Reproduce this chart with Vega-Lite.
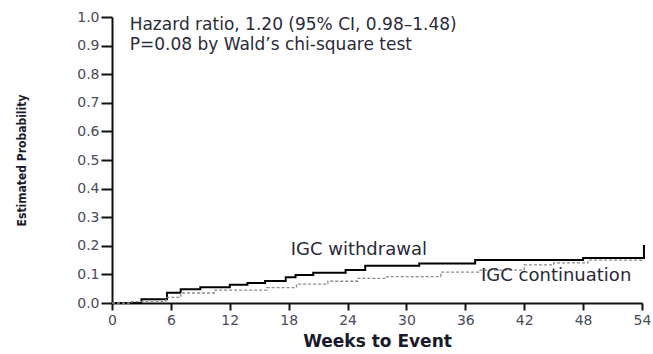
{
  "$schema": "https://vega.github.io/schema/vega-lite/v6.json",
  "width": 530,
  "height": 286,
  "autosize": {"type": "none"},
  "padding": {"left": 112, "top": 17, "right": 11, "bottom": 51},
  "background": "white",
  "config": {
    "view": {"stroke": null},
    "font": "DejaVu Sans",
    "axis": {
      "domainColor": "#111",
      "domainWidth": 2,
      "tickColor": "#111",
      "tickWidth": 2,
      "tickSize": 7,
      "grid": false,
      "labelColor": "#4a4a5a",
      "labelFont": "DejaVu Sans",
      "labelFontSize": 14,
      "labelOverlap": false,
      "labelFlush": false,
      "titleColor": "#1a1a2a"
    }
  },
  "datasets": {
    "km": [
      {"week": 0, "prob": 0, "group": "IGC withdrawal"},
      {"week": 3, "prob": 0.013, "group": "IGC withdrawal"},
      {"week": 5.6, "prob": 0.036, "group": "IGC withdrawal"},
      {"week": 7, "prob": 0.048, "group": "IGC withdrawal"},
      {"week": 9, "prob": 0.055, "group": "IGC withdrawal"},
      {"week": 12, "prob": 0.064, "group": "IGC withdrawal"},
      {"week": 13.8, "prob": 0.07, "group": "IGC withdrawal"},
      {"week": 15.6, "prob": 0.077, "group": "IGC withdrawal"},
      {"week": 17.7, "prob": 0.09, "group": "IGC withdrawal"},
      {"week": 18.7, "prob": 0.098, "group": "IGC withdrawal"},
      {"week": 20.5, "prob": 0.106, "group": "IGC withdrawal"},
      {"week": 23.8, "prob": 0.115, "group": "IGC withdrawal"},
      {"week": 25.8, "prob": 0.13, "group": "IGC withdrawal"},
      {"week": 31.3, "prob": 0.138, "group": "IGC withdrawal"},
      {"week": 37, "prob": 0.15, "group": "IGC withdrawal"},
      {"week": 48, "prob": 0.157, "group": "IGC withdrawal"},
      {"week": 54.2, "prob": 0.203, "group": "IGC withdrawal"},
      {"week": 0, "prob": 0, "group": "IGC continuation"},
      {"week": 2, "prob": 0.005, "group": "IGC continuation"},
      {"week": 5.5, "prob": 0.02, "group": "IGC continuation"},
      {"week": 7, "prob": 0.035, "group": "IGC continuation"},
      {"week": 10.5, "prob": 0.045, "group": "IGC continuation"},
      {"week": 15.8, "prob": 0.054, "group": "IGC continuation"},
      {"week": 18.8, "prob": 0.066, "group": "IGC continuation"},
      {"week": 22, "prob": 0.076, "group": "IGC continuation"},
      {"week": 25, "prob": 0.086, "group": "IGC continuation"},
      {"week": 28, "prob": 0.092, "group": "IGC continuation"},
      {"week": 33.5, "prob": 0.108, "group": "IGC continuation"},
      {"week": 37.5, "prob": 0.115, "group": "IGC continuation"},
      {"week": 42, "prob": 0.133, "group": "IGC continuation"},
      {"week": 45, "prob": 0.14, "group": "IGC continuation"},
      {"week": 48.5, "prob": 0.15, "group": "IGC continuation"},
      {"week": 54, "prob": 0.153, "group": "IGC continuation"}
    ],
    "labels": [
      {"week": 18.2, "prob": 0.185, "text": "IGC withdrawal", "size": 18},
      {"week": 37.6, "prob": 0.096, "text": "IGC continuation", "size": 18},
      {"week": 1.8, "prob": 0.972, "text": "Hazard ratio, 1.20 (95% CI, 0.98\u20131.48)", "size": 17},
      {"week": 1.8, "prob": 0.902, "text": "P=0.08 by Wald\u2019s chi-square test", "size": 17}
    ]
  },
  "layer": [
    {
      "data": {"name": "km"},
      "mark": {"type": "line", "interpolate": "step-after"},
      "encoding": {
        "x": {
          "field": "week", "type": "quantitative",
          "scale": {"domain": [0, 54], "nice": false, "zero": true},
          "axis": {
            "values": [0, 6, 12, 18, 24, 30, 36, 42, 48, 54],
            "tickCount": 10,
            "title": "Weeks to Event",
            "titleFont": "DejaVu Sans",
            "titleFontSize": 17,
            "titleFontWeight": "bold",
            "titlePadding": 6,
            "labelPadding": 3
          }
        },
        "y": {
          "field": "prob", "type": "quantitative",
          "scale": {"domain": [0, 1], "nice": false},
          "axis": {
            "values": [0, 0.1, 0.2, 0.3, 0.4, 0.5, 0.6, 0.7, 0.8, 0.9, 1.0],
            "tickCount": 11,
            "tickSize": 11,
            "format": ".1f",
            "title": "Estimated Probability",
            "titleFont": "DejaVu Sans Condensed, Roboto Condensed, Roboto",
            "titleFontSize": 12,
            "titleFontWeight": "bold",
            "titlePadding": 48,
            "labelPadding": 2
          }
        },
        "color": {
          "field": "group", "type": "nominal",
          "scale": {"domain": ["IGC withdrawal", "IGC continuation"], "range": ["#000000", "#8a8a8a"]},
          "legend": null
        },
        "strokeDash": {
          "field": "group", "type": "nominal",
          "scale": {"domain": ["IGC withdrawal", "IGC continuation"], "range": [[1, 0], [3, 2]]},
          "legend": null
        },
        "strokeWidth": {
          "field": "group", "type": "nominal",
          "scale": {"domain": ["IGC withdrawal", "IGC continuation"], "range": [2, 1.3]},
          "legend": null
        }
      }
    },
    {
      "data": {"name": "labels"},
      "mark": {"type": "text", "align": "left", "baseline": "middle", "font": "DejaVu Sans", "color": "#2a2a3a"},
      "encoding": {
        "x": {"field": "week", "type": "quantitative"},
        "y": {"field": "prob", "type": "quantitative"},
        "text": {"field": "text"},
        "size": {"field": "size", "type": "quantitative", "scale": null}
      }
    }
  ]
}
